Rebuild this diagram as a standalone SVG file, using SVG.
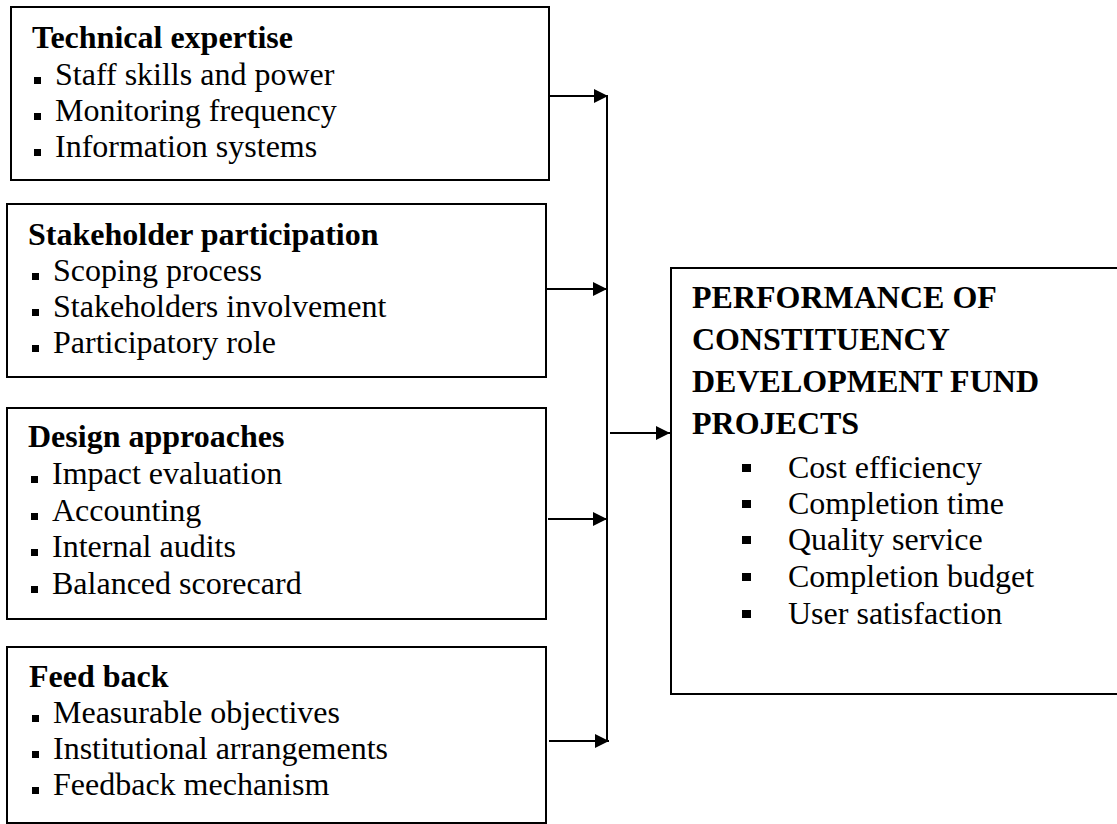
<svg xmlns="http://www.w3.org/2000/svg" width="1117" height="824" viewBox="0 0 1117 824">
<style>
.box{fill:#fff;stroke:#000;stroke-width:2}
.t{font-family:"Liberation Serif","Times New Roman",serif;font-size:32px;fill:#000}
.b{font-weight:bold}
.bul{fill:#000}
.con{stroke:#000;stroke-width:2;fill:none}
</style>
<defs>
<marker id="ah" markerUnits="userSpaceOnUse" markerWidth="15" markerHeight="15" refX="14" refY="7" orient="auto">
<path d="M0,0 L14,7 L0,14 z" fill="#000"/>
</marker>
</defs>
<rect width="1117" height="824" fill="#fff"/>
<g id="node-technical">
<rect class="box" x="11" y="7" width="538" height="173"/>
<text class="t b" x="32" y="48">Technical expertise</text>
<rect class="bul" x="34" y="77" width="7" height="7"/>
<text class="t" x="55" y="85">Staff skills and power</text>
<rect class="bul" x="34" y="113" width="7" height="7"/>
<text class="t" x="55" y="121">Monitoring frequency</text>
<rect class="bul" x="34" y="149" width="7" height="7"/>
<text class="t" x="55" y="157">Information systems</text>
</g>
<g id="node-stakeholder">
<rect class="box" x="7" y="204" width="539" height="173"/>
<text class="t b" x="28" y="245">Stakeholder participation</text>
<rect class="bul" x="32" y="273" width="7" height="7"/>
<text class="t" x="53" y="281">Scoping process</text>
<rect class="bul" x="32" y="309" width="7" height="7"/>
<text class="t" x="53" y="317">Stakeholders involvement</text>
<rect class="bul" x="32" y="345" width="7" height="7"/>
<text class="t" x="53" y="353">Participatory role</text>
</g>
<g id="node-design">
<rect class="box" x="7" y="408" width="539" height="211"/>
<text class="t b" x="28" y="447">Design approaches</text>
<rect class="bul" x="31" y="476" width="7" height="7"/>
<text class="t" x="52" y="484">Impact evaluation</text>
<rect class="bul" x="31" y="513" width="7" height="7"/>
<text class="t" x="52" y="521">Accounting</text>
<rect class="bul" x="31" y="549" width="7" height="7"/>
<text class="t" x="52" y="557">Internal audits</text>
<rect class="bul" x="31" y="586" width="7" height="7"/>
<text class="t" x="52" y="594">Balanced scorecard</text>
</g>
<g id="node-feedback">
<rect class="box" x="7" y="647" width="539" height="176"/>
<text class="t b" x="29" y="687">Feed back</text>
<rect class="bul" x="32" y="715" width="7" height="7"/>
<text class="t" x="53" y="723">Measurable objectives</text>
<rect class="bul" x="32" y="751" width="7" height="7"/>
<text class="t" x="53" y="759">Institutional arrangements</text>
<rect class="bul" x="32" y="787" width="7" height="7"/>
<text class="t" x="53" y="795">Feedback mechanism</text>
</g>
<g id="node-performance">
<rect class="box" x="671" y="268" width="460" height="426"/>
<text class="t b" x="692" y="308">PERFORMANCE OF</text>
<text class="t b" x="692" y="350">CONSTITUENCY</text>
<text class="t b" x="692" y="392">DEVELOPMENT FUND</text>
<text class="t b" x="692" y="434">PROJECTS</text>
<rect class="bul" x="742" y="464" width="9" height="8"/>
<text class="t" x="788" y="478">Cost efficiency</text>
<rect class="bul" x="742" y="500" width="9" height="8"/>
<text class="t" x="788" y="514">Completion time</text>
<rect class="bul" x="742" y="536" width="9" height="8"/>
<text class="t" x="788" y="550">Quality service</text>
<rect class="bul" x="742" y="573" width="9" height="8"/>
<text class="t" x="788" y="587">Completion budget</text>
<rect class="bul" x="742" y="610" width="9" height="8"/>
<text class="t" x="788" y="624">User satisfaction</text>
</g>
<g id="connectors">
<line class="con" x1="607" y1="96" x2="607" y2="741"/>
<line class="con" x1="549" y1="96" x2="608" y2="96" marker-end="url(#ah)"/>
<line class="con" x1="546" y1="289" x2="607" y2="289" marker-end="url(#ah)"/>
<line class="con" x1="548" y1="519" x2="607" y2="519" marker-end="url(#ah)"/>
<line class="con" x1="549" y1="741" x2="609" y2="741" marker-end="url(#ah)"/>
<line class="con" x1="610" y1="433" x2="670" y2="433" marker-end="url(#ah)"/>
</g>
</svg>
